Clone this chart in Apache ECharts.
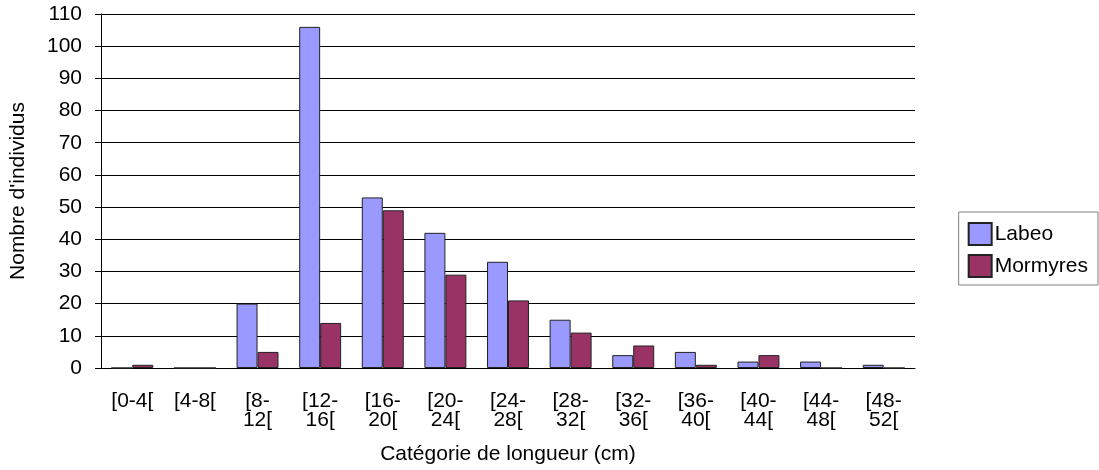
<!DOCTYPE html>
<html>
<head>
  <meta charset="utf-8" />
  <title>Catégorie de longueur</title>
  <script src="https://cdn.jsdelivr.net/npm/echarts@6/dist/echarts.min.js"></script>
  <style>
    body { margin: 0; background: #fff; }
    #main { width: 1099px; height: 470px; }
  </style>
</head>
<body>
  <div id="main"></div>
  <script type="text/javascript">
    // classes de longueur (cm)
    var categories = ['[0-4[', '[4-8[', '[8-\n12[', '[12-\n16[', '[16-\n20[', '[20-\n24[',
      '[24-\n28[', '[28-\n32[', '[32-\n36[', '[36-\n40[', '[40-\n44[', '[44-\n48[', '[48-\n52['];
    var labeo = [0, 0, 20, 106, 53, 42, 33, 15, 4, 5, 2, 2, 1];
    var mormyres = [1, 0, 5, 14, 49, 29, 21, 11, 7, 1, 4, 0, 0];

    var myChart = echarts.init(document.getElementById('main'));
    var font = 'Liberation Sans, Arial, sans-serif';

    var option = {
      animation: false,
      textStyle: { fontFamily: font },
      grid: { left: 101, right: 184, top: 14, bottom: 102 },
      legend: {
        orient: 'vertical',
        right: 1,
        top: 212,
        padding: [10, 10, 7, 9],
        itemGap: 8,
        itemWidth: 23,
        itemHeight: 22,
        icon: 'rect',
        borderColor: '#808080',
        borderWidth: 1,
        textStyle: { fontSize: 21, color: '#000', fontFamily: font, padding: [0, 0, 0, -2] }
      },
      xAxis: {
        type: 'category',
        data: categories,
        name: 'Catégorie de longueur (cm)',
        nameLocation: 'middle',
        nameGap: 76,
        nameTextStyle: { fontSize: 21, color: '#000' },
        axisLine: { lineStyle: { color: '#000' } },
        axisTick: { length: 8, lineStyle: { color: '#000' } },
        axisLabel: { interval: 0, fontSize: 21, color: '#000', margin: 24, lineHeight: 19 }
      },
      yAxis: {
        type: 'value',
        min: 0,
        max: 110,
        interval: 10,
        name: "Nombre d'individus",
        nameLocation: 'middle',
        nameGap: 72,
        nameTextStyle: { fontSize: 21, color: '#000' },
        axisLine: { show: true, lineStyle: { color: '#000' } },
        axisTick: { show: true, length: 6, lineStyle: { color: '#000' } },
        axisLabel: { fontSize: 21, color: '#000', margin: 19 },
        splitLine: { lineStyle: { color: '#000' } }
      },
      series: [
        {
          name: 'Labeo',
          type: 'bar',
          data: labeo,
          barGap: '0%',
          barCategoryGap: '33%',
          itemStyle: { color: '#9999FF', borderColor: '#222', borderWidth: 1 }
        },
        {
          name: 'Mormyres',
          type: 'bar',
          data: mormyres,
          itemStyle: { color: '#993366', borderColor: '#222', borderWidth: 1 }
        }
      ]
    };
    myChart.setOption(option);
  </script>
</body>
</html>
